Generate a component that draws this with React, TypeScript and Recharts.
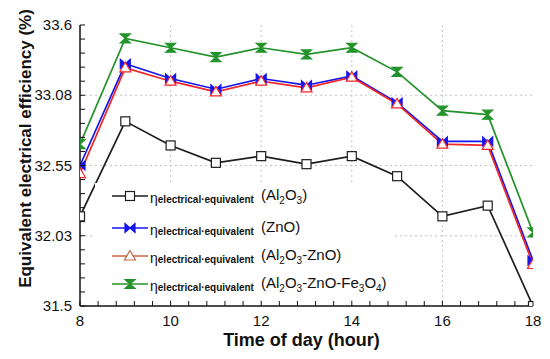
import React from 'react';
import { LineChart, Line, XAxis, YAxis, CartesianGrid, Legend } from 'recharts';

// ---- data ----
const hours = [8, 9, 10, 11, 12, 13, 14, 15, 16, 17, 18];
const al2o3 = [32.17, 32.88, 32.7, 32.57, 32.62, 32.56, 32.62, 32.47, 32.17, 32.25, 31.5];
const zno = [32.55, 33.31, 33.2, 33.12, 33.2, 33.15, 33.22, 33.02, 32.73, 32.73, 31.84];
const al2o3Zno = [32.49, 33.28, 33.18, 33.1, 33.18, 33.13, 33.21, 33.01, 32.71, 32.7, 31.81];
const al2o3ZnoFe3o4 = [32.71, 33.5, 33.43, 33.36, 33.43, 33.38, 33.43, 33.25, 32.96, 32.93, 32.05];

const xMajorTicks = [8, 10, 12, 14, 16, 18];
const xTickLabels = ['8', '10', '12', '14', '16', '18'];
const yMajorTicks = [31.5, 32.025, 32.55, 33.075, 33.6];
const yTickLabels = ['31.5', '32.03', '32.55', '33.08', '33.6'];

const seriesKeys = ['al2o3', 'zno', 'al2o3Zno', 'fe'];
const seriesColors = ['#1e1e1e', '#1515f0', '#f02828', '#23922a'];
const legendColors = ['#1e1e1e', '#1515f0', '#c86446', '#23922a'];

const data = hours.map((h, i) => ({
  hour: h,
  al2o3: al2o3[i],
  zno: zno[i],
  al2o3Zno: al2o3Zno[i],
  fe: al2o3ZnoFe3o4[i],
}));

const subdivide = (majors: number[], n: number) => {
  const out: number[] = [];
  for (let i = 0; i < majors.length - 1; i++) {
    for (let k = 0; k < n; k++) out.push(majors[i] + ((majors[i + 1] - majors[i]) * k) / n);
  }
  out.push(majors[majors.length - 1]);
  return out;
};
const xAllTicks = subdivide(xMajorTicks, 5);
const yAllTicks = subdivide(yMajorTicks, 5);

const FONT = '"Liberation Sans", Arial, sans-serif';
const TM = 8;
const TL = 5;

const makeTick =
  (side: 'bottom' | 'top' | 'left' | 'right', majors: number[], labels?: string[]) =>
  (props: any) => {
    const { x, y, payload } = props;
    const v = payload.value;
    const idx = majors.findIndex((m) => Math.abs(m - v) < 1e-6);
    let line: any = null;
    let text: any = null;
    const st = { stroke: '#111', strokeWidth: 1 };
    if (side === 'bottom') {
      const ay = y - TM;
      line = <line x1={x} x2={x} y1={ay} y2={ay - TL} {...st} />;
      if (labels && idx >= 0)
        text = (
          <text x={x} y={y} dy={12} textAnchor="middle" fontSize={15} fill="#111" fontFamily={FONT}>
            {labels[idx]}
          </text>
        );
    } else if (side === 'top') {
      const ay = y + TM;
      line = <line x1={x} x2={x} y1={ay} y2={ay + TL} {...st} />;
    } else if (side === 'left') {
      const ax = x + TM;
      line = <line x1={ax} x2={ax + TL} y1={y} y2={y} {...st} />;
      if (labels && idx >= 0)
        text = (
          <text x={x} y={y} dy={5} textAnchor="end" fontSize={15} fill="#111" fontFamily={FONT}>
            {labels[idx]}
          </text>
        );
    } else {
      const ax = x - TM;
      line = <line x1={ax} x2={ax - TL} y1={y} y2={y} {...st} />;
    }
    return (
      <g>
        {line}
        {text}
      </g>
    );
  };

// ---- markers ----
const Square = ({ cx, cy, color }: any) => (
  <rect x={cx - 4.5} y={cy - 4.5} width={9} height={9} fill="#fff" stroke={color} strokeWidth={1.2} />
);
const Bowtie = ({ cx, cy, color }: any) => (
  <path
    d={`M${cx - 5},${cy - 4.5} L${cx},${cy} L${cx - 5},${cy + 4.5} Z M${cx + 5},${cy - 4.5} L${cx},${cy} L${cx + 5},${cy + 4.5} Z`}
    fill={color}
    stroke={color}
    strokeWidth={1.2}
  />
);
const Triangle = ({ cx, cy, color }: any) => (
  <path
    d={`M${cx},${cy - 5.5} L${cx + 5.5},${cy + 4} L${cx - 5.5},${cy + 4} Z`}
    fill="#fff"
    stroke={color}
    strokeWidth={1.2}
  />
);
const Hourglass = ({ cx, cy, color }: any) => (
  <path
    d={`M${cx - 5},${cy - 4.5} L${cx + 5},${cy - 4.5} L${cx},${cy} Z M${cx - 5},${cy + 4.5} L${cx + 5},${cy + 4.5} L${cx},${cy} Z`}
    fill={color}
    stroke={color}
    strokeWidth={1.2}
  />
);
const markers = [Square, Bowtie, Triangle, Hourglass];

const makeDot = (i: number) => (props: any) => {
  const M = markers[i];
  if (props.cx == null || props.cy == null) return <g key={props.key} />;
  return (
    <g key={props.key}>
      <M cx={props.cx} cy={props.cy} color={seriesColors[i]} />
    </g>
  );
};

// ---- legend ----
const legendLabels: { main: string; parts: { t: string; sub?: boolean }[] }[] = [
  { main: 'Al2O3', parts: [{ t: '(Al' }, { t: '2', sub: true }, { t: 'O' }, { t: '3', sub: true }, { t: ')' }] },
  { main: 'ZnO', parts: [{ t: '(ZnO)' }] },
  {
    main: 'Al2O3-ZnO',
    parts: [{ t: '(Al' }, { t: '2', sub: true }, { t: 'O' }, { t: '3', sub: true }, { t: '-ZnO)' }],
  },
  {
    main: 'Al2O3-ZnO-Fe3O4',
    parts: [
      { t: '(Al' },
      { t: '2', sub: true },
      { t: 'O' },
      { t: '3', sub: true },
      { t: '-ZnO-Fe' },
      { t: '3', sub: true },
      { t: 'O' },
      { t: '4', sub: true },
      { t: ')' },
    ],
  },
];
const legendRowY = [13, 45, 73, 101];

const LegendContent = () => (
  <svg width={300} height={117} style={{ display: 'block', fontFamily: FONT }}>
    {legendLabels.map((lab, i) => {
      const cy = legendRowY[i];
      const M = markers[i];
      return (
        <g key={lab.main}>
          <line x1={17} x2={53} y1={cy} y2={cy} stroke={legendColors[i]} strokeWidth={1.6} />
          <M cx={35} cy={cy} color={legendColors[i]} />
          <text x={55} y={cy + 7} fill="#111">
            <tspan fontSize={14}>η</tspan>
            <tspan fontSize={10} fontWeight="bold">electrical·equivalent</tspan>
          </text>
          <text x={166} y={cy + 4} fontSize={15} fill="#111">
            {lab.parts.map((p, k) =>
              p.sub ? (
                <tspan key={k} fontSize={10} dy={4}>
                  {p.t}
                </tspan>
              ) : (
                <tspan key={k} dy={k > 0 && lab.parts[k - 1].sub ? -4 : 0}>
                  {p.t}
                </tspan>
              )
            )}
          </text>
        </g>
      );
    })}
  </svg>
);

export default function App() {
  const axisLine = { stroke: '#111', strokeWidth: 1.5 };
  return (
    <div style={{ position: 'absolute', left: 0, top: 0, width: 550, height: 359, background: '#fff' }}>
      <LineChart
        width={550}
        height={359}
        data={data}
        margin={{ top: 25, right: 17, bottom: 0, left: 0 }}
        style={{ fontFamily: FONT }}
      >
        <CartesianGrid
          stroke="#c4c4c4"
          strokeDasharray="2 3"
          horizontalValues={yMajorTicks.slice(1, -1)}
          verticalValues={xMajorTicks.slice(1, -1)}
        />
        <XAxis
          dataKey="hour"
          type="number"
          domain={[8, 18]}
          allowDataOverflow
          ticks={xAllTicks}
          interval={0}
          tickSize={0}
          tickMargin={TM}
          tickLine={false}
          axisLine={axisLine}
          height={53}
          tick={makeTick('bottom', xMajorTicks, xTickLabels)}
          label={{
            content: (p: any) => {
              const vb = p.viewBox || {};
              return (
                <text
                  x={vb.x + vb.width / 2 - 5}
                  y={vb.y + 40}
                  textAnchor="middle"
                  fontSize={18}
                  fontWeight="bold"
                  fill="#111"
                  fontFamily={FONT}
                >
                  Time of day (hour)
                </text>
              );
            },
          }}
        />
        <XAxis
          xAxisId="top"
          orientation="top"
          dataKey="hour"
          type="number"
          domain={[8, 18]}
          allowDataOverflow
          ticks={xAllTicks}
          interval={0}
          tickSize={0}
          tickMargin={TM}
          tickLine={false}
          axisLine={axisLine}
          height={0}
          tick={makeTick('top', xMajorTicks)}
        />
        <YAxis
          type="number"
          domain={[31.5, 33.6]}
          allowDataOverflow
          ticks={yAllTicks}
          interval={0}
          tickSize={0}
          tickMargin={TM}
          tickLine={false}
          axisLine={axisLine}
          width={80}
          tick={makeTick('left', yMajorTicks, yTickLabels)}
          label={{
            content: (p: any) => {
              const vb = p.viewBox || {};
              const cx = vb.x + 25;
              const cy = vb.y + vb.height / 2 - 17;
              return (
                <text
                  x={cx}
                  y={cy}
                  transform={`rotate(-90 ${cx} ${cy})`}
                  textAnchor="middle"
                  dominantBaseline="central"
                  fontSize={17}
                  fontWeight="bold"
                  fill="#111"
                  fontFamily={FONT}
                >
                  Equivalent electrical efficiency (%)
                </text>
              );
            },
          }}
        />
        <YAxis
          yAxisId="right"
          orientation="right"
          type="number"
          domain={[31.5, 33.6]}
          allowDataOverflow
          ticks={yAllTicks}
          interval={0}
          tickSize={0}
          tickMargin={TM}
          tickLine={false}
          axisLine={axisLine}
          width={0}
          tick={makeTick('right', yMajorTicks)}
        />
        {seriesKeys.map((k, i) => (
          <Line
            key={k}
            dataKey={k}
            type="linear"
            stroke={seriesColors[i]}
            strokeWidth={1.7}
            dot={makeDot(i)}
            activeDot={false}
            isAnimationActive={false}
          />
        ))}
        <Legend
          layout="horizontal"
          verticalAlign="middle"
          align="center"
          content={<LegendContent />}
          wrapperStyle={{ left: 95, top: 183, width: 300, height: 117, background: '#fff' }}
        />
      </LineChart>
    </div>
  );
}
